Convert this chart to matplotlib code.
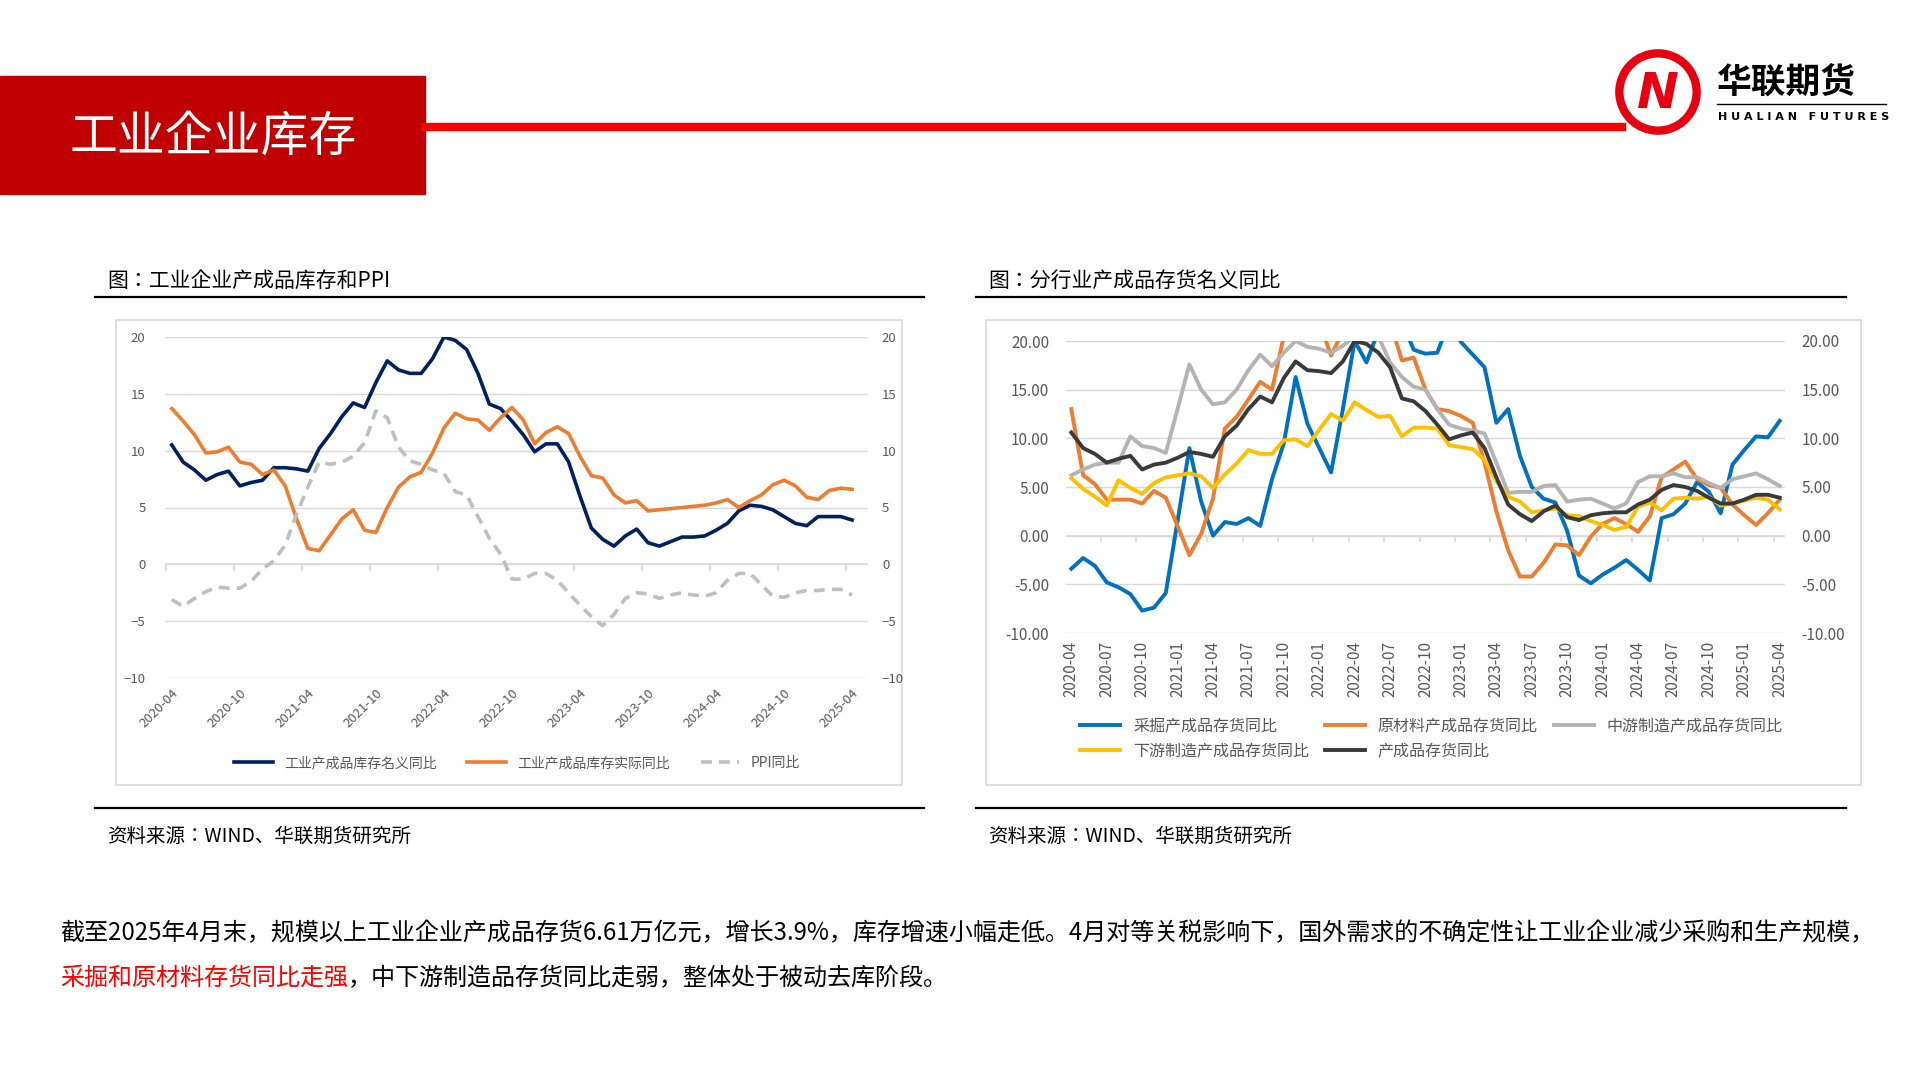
import matplotlib
matplotlib.use("Agg")
import matplotlib.pyplot as plt
from matplotlib.patches import Rectangle, Circle
from matplotlib.lines import Line2D
import numpy as np

plt.rcParams["font.family"] = ["Noto Sans CJK JP", "Noto Sans CJK SC", "DejaVu Sans"]

months = [f"{y}-{m:02d}" for y in range(2020, 2026) for m in range(1, 13)][3:64]

nominal = [10.5,9.0,8.3,7.4,7.9,8.2,6.9,7.2,7.4,8.5,8.5,8.4,8.2,10.2,11.5,13.0,14.2,13.8,16.0,17.9,17.1,16.8,16.8,18.1,20.0,19.7,18.9,16.8,14.1,13.7,12.6,11.4,9.9,10.6,10.6,9.0,6.0,3.2,2.2,1.6,2.5,3.1,1.9,1.6,2.0,2.4,2.4,2.5,3.0,3.6,4.7,5.2,5.1,4.8,4.2,3.6,3.4,4.2,4.2,4.2,3.9]
real = [13.7,12.6,11.4,9.8,9.9,10.3,9.0,8.8,7.9,8.3,6.9,4.0,1.4,1.2,2.6,4.0,4.8,3.0,2.8,5.0,6.8,7.7,8.1,9.8,12.0,13.3,12.8,12.7,11.8,12.9,13.8,12.7,10.6,11.6,12.1,11.5,9.5,7.8,7.6,6.1,5.4,5.6,4.7,4.8,4.9,5.0,5.1,5.2,5.4,5.7,5.0,5.6,6.1,7.0,7.4,6.9,5.9,5.7,6.5,6.7,6.6]
ppi = [-3.1,-3.7,-3.0,-2.4,-2.0,-2.1,-2.1,-1.5,-0.4,0.3,1.7,4.4,6.8,9.0,8.8,9.0,9.5,10.7,13.5,12.9,10.3,9.1,8.8,8.3,8.0,6.4,6.1,4.2,2.3,0.9,-1.3,-1.3,-0.8,-0.8,-1.4,-2.5,-3.6,-4.6,-5.4,-4.4,-3.0,-2.5,-2.6,-3.0,-2.7,-2.5,-2.7,-2.8,-2.5,-1.4,-0.8,-0.8,-1.8,-2.8,-2.9,-2.5,-2.3,-2.3,-2.2,-2.2,-2.7]

mining = [-3.4,-2.3,-3.1,-4.8,-5.3,-6.0,-7.7,-7.4,-5.9,1.5,9.0,3.5,0.0,1.4,1.2,1.8,1.0,5.8,9.5,16.3,11.5,9.0,6.5,13.0,20.0,17.8,21.0,23.0,22.0,19.1,18.7,18.8,22.0,19.9,18.6,17.3,11.6,13.0,8.2,5.0,3.8,3.4,0.5,-4.1,-4.9,-4.0,-3.3,-2.5,-3.5,-4.6,1.8,2.2,3.3,5.5,4.5,2.3,7.3,8.8,10.2,10.1,11.8]
raw = [13.0,6.2,5.3,3.7,3.7,3.7,3.3,4.6,3.9,1.0,-2.0,0.2,3.8,11.0,12.2,14.0,15.8,15.0,20.5,22.0,21.0,22.0,18.5,21.0,23.0,24.0,23.0,22.0,18.0,18.3,15.0,13.0,12.8,12.3,11.6,7.5,2.5,-1.5,-4.2,-4.2,-2.8,-0.9,-1.0,-2.0,-0.1,1.2,1.8,1.2,0.4,2.0,6.0,6.8,7.6,5.8,5.2,4.9,3.2,2.1,1.1,2.3,3.7]
mid = [6.2,6.8,7.3,7.5,7.5,10.2,9.2,9.0,8.5,13.0,17.6,15.0,13.5,13.7,15.0,17.0,18.6,17.4,18.8,20.0,19.4,19.2,18.8,19.5,20.5,21.0,20.5,17.8,16.3,15.3,15.0,13.0,11.4,11.0,10.8,10.5,7.5,4.4,4.5,4.5,5.1,5.2,3.5,3.7,3.8,3.3,2.8,3.3,5.5,6.1,6.1,6.4,6.0,6.0,5.4,4.9,5.8,6.1,6.4,5.8,5.1]
down = [5.9,4.8,4.0,3.1,5.7,4.9,4.3,5.4,6.0,6.2,6.4,6.1,4.9,6.3,7.4,8.8,8.4,8.4,9.8,9.9,9.2,10.9,12.5,11.8,13.7,12.9,12.2,12.3,10.2,11.1,11.1,11.0,9.3,9.1,8.9,7.8,5.6,4.0,3.5,2.4,2.6,2.8,2.1,2.0,1.5,1.1,0.6,0.9,3.0,3.4,2.6,3.8,3.9,3.8,4.0,3.1,3.3,3.6,3.9,3.7,2.7]
finished = [10.6,9.0,8.4,7.5,7.9,8.2,6.8,7.3,7.5,8.0,8.6,8.4,8.1,10.2,11.3,13.0,14.3,13.7,16.2,17.9,17.0,16.9,16.7,17.9,20.0,19.7,18.8,17.3,14.1,13.8,12.8,11.4,9.9,10.3,10.6,9.0,6.0,3.2,2.2,1.5,2.5,3.1,1.9,1.6,2.1,2.3,2.4,2.4,3.2,3.7,4.7,5.2,5.0,4.6,3.9,3.3,3.3,3.7,4.2,4.2,3.9]

left_names = ["工业产成品库存名义同比", "工业产成品库存实际同比", "PPI同比"]
right_names = ["采掘产成品存货同比", "原材料产成品存货同比", "中游制造产成品存货同比", "下游制造产成品存货同比", "产成品存货同比"]

W, H = 1920, 1080
fig = plt.figure(figsize=(19.2, 10.8), dpi=100)
fig.patch.set_facecolor("white")

def fx(x): return x / W
def fy(y): return 1 - y / H

for x0, x1 in [(116, 902), (986, 1861)]:
    fig.add_artist(Rectangle((fx(x0), fy(785)), (x1 - x0) / W, (785 - 320) / H, transform=fig.transFigure,
                             facecolor="none", edgecolor="#D9D9D9", lw=1.2, zorder=-5))

# header
fig.add_artist(Rectangle((0, fy(194)), fx(425), (194 - 76) / H, transform=fig.transFigure, color="#C00000", zorder=-5))
fig.text(fx(70), fy(137), "工业企业库存", color="white", fontsize=34.5, va="center")
fig.add_artist(Line2D([fx(425), fx(1622)], [fy(127), fy(127)], color="#FF0000", lw=6))
lax = fig.add_axes([fx(1612), fy(138), 92 / W, 92 / H]); lax.set_xlim(0, 1); lax.set_ylim(0, 1)
lax.set_aspect("equal"); lax.axis("off")
lax.add_patch(Circle((0.5, 0.5), 0.42, facecolor="white", edgecolor="#E60012", lw=6))
lax.text(0.5, 0.48, "N", color="#E60012", fontsize=36, fontweight="bold", style="italic", ha="center", va="center",
         family="DejaVu Sans")
fig.text(fx(1717), fy(82), "华联期货", fontsize=25, fontweight="bold", va="center")
fig.add_artist(Line2D([fx(1717), fx(1886)], [fy(104), fy(104)], color="black", lw=1))
fig.text(fx(1718), fy(117), "H U A L I A N   F U T U R E S", fontsize=8, fontweight="bold", va="center",
         family="DejaVu Sans")

for x0, x1, title in [(95, 924, "图：工业企业产成品库存和PPI"), (976, 1846, "图：分行业产成品存货名义同比")]:
    fig.text(fx(x0 + 12), fy(281), title, fontsize=15, va="center")
    fig.add_artist(Line2D([fx(x0), fx(x1)], [fy(297), fy(297)], color="black", lw=1.6))
    fig.add_artist(Line2D([fx(x0), fx(x1)], [fy(808), fy(808)], color="black", lw=1.6))
    fig.text(fx(x0 + 12), fy(836), "资料来源：WIND、华联期货研究所", fontsize=14, va="center")

x = np.arange(len(months))
grid_c = "#D9D9D9"
lab_c = "#595959"

# left chart
ax = fig.add_axes([fx(165), fy(678), (868 - 165) / W, (678 - 337) / H])
ax.patch.set_alpha(0)
ax.set_xlim(-0.6, 61.4); ax.set_ylim(-10, 20)
for v in range(-10, 25, 5):
    ax.axhline(v, color=grid_c, lw=1, zorder=0)
l1, = ax.plot(x, nominal, color="#002060", lw=2.6)
l2, = ax.plot(x, real, color="#ED7D31", lw=2.6)
l3, = ax.plot(x, ppi, color="#BFBFBF", lw=2.6, ls=(0, (3, 2)))
ax.axhline(0, color=grid_c, lw=1.2, zorder=0)
ax.vlines(np.arange(-0.5, 61, 6), -0.6, 0, color=grid_c, lw=1.2, zorder=0)
for s in ax.spines.values(): s.set_visible(False)
ax.set_yticks(range(-10, 25, 5))
ax.tick_params(axis="y", length=0, labelsize=9.5, labelcolor=lab_c, pad=14)
ax.set_xticks(x[::6]); ax.set_xticklabels(months[::6], rotation=45, ha="right", rotation_mode="anchor")
ax.tick_params(axis="x", length=0, labelsize=9.5, labelcolor=lab_c, pad=6)
ax2 = ax.twinx(); ax2.set_ylim(-10, 20); ax2.set_yticks(range(-10, 25, 5))
for s in ax2.spines.values(): s.set_visible(False)
ax2.tick_params(axis="y", length=0, labelsize=9.5, labelcolor=lab_c, pad=10)
fig.legend([l1, l2, l3], left_names, ncol=3, loc="center", bbox_to_anchor=(fx(517), fy(763)), frameon=False,
           fontsize=10, labelcolor=lab_c, handlelength=2.8, columnspacing=2.2)

# right chart
bx = fig.add_axes([fx(1066), fy(633), (1785 - 1066) / W, (633 - 341) / H])
bx.patch.set_alpha(0)
bx.set_xlim(-0.45, 60.45); bx.set_ylim(-10, 20)
for v in range(-10, 25, 5):
    bx.axhline(v, color=grid_c, lw=1, zorder=0)
cols = ["#0070C0", "#ED7D31", "#B4B4B4", "#FFC000", "#3A3A3A"]
lines = []
for series, c in zip([mining, raw, mid, down, finished], cols):
    ln, = bx.plot(x, series, color=c, lw=2.8)
    lines.append(ln)
bx.axhline(0, color=grid_c, lw=1.2, zorder=0)
bx.vlines(np.arange(-0.5, 61, 3), -0.6, 0, color=grid_c, lw=1.2, zorder=0)
for s in bx.spines.values(): s.set_visible(False)
bx.set_yticks(range(-10, 25, 5)); bx.set_yticklabels([f"{v:.2f}" for v in range(-10, 25, 5)])
bx.tick_params(axis="y", length=0, labelsize=11, labelcolor=lab_c, pad=12)
bx.set_xticks(x[::3]); bx.set_xticklabels(months[::3], rotation=90)
bx.tick_params(axis="x", length=0, labelsize=11, labelcolor=lab_c, pad=6)
bx2 = bx.twinx(); bx2.set_ylim(-10, 20); bx2.set_yticks(range(-10, 25, 5))
bx2.set_yticklabels([f"{v:.2f}" for v in range(-10, 25, 5)])
for s in bx2.spines.values(): s.set_visible(False)
bx2.tick_params(axis="y", length=0, labelsize=11, labelcolor=lab_c, pad=12)
order = [0, 3, 1, 4, 2]
fig.legend([lines[i] for i in order], [right_names[i] for i in order], ncol=3, loc="upper left",
           bbox_to_anchor=(fx(1066), fy(703)), frameon=False, fontsize=11.5, labelcolor=lab_c,
           handlelength=2.5, columnspacing=1.0, labelspacing=0.5)

# paragraph
fs = 17.3
fig.text(fx(60), fy(933), "截至2025年4月末，规模以上工业企业产成品存货6.61万亿元，增长3.9%，库存增速小幅走低。4月对等关税影响下，国外需求的不确定性让工业企业减少采购和生产规模，",
         fontsize=fs, va="center")
t_red = fig.text(fx(60), fy(978), "采掘和原材料存货同比走强", fontsize=fs, va="center", color="#FF0000")
fig.canvas.draw()
bb = t_red.get_window_extent()
fig.text(bb.x1 / W, fy(978), "，中下游制造品存货同比走弱，整体处于被动去库阶段。", fontsize=fs, va="center")

fig.savefig("out.png", dpi=100)
